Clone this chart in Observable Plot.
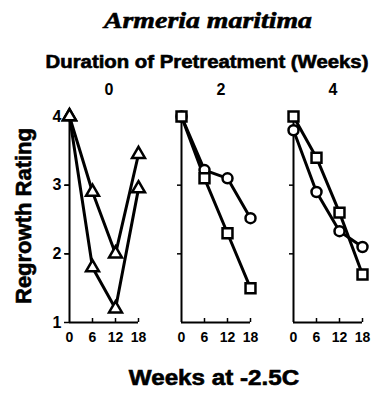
<!DOCTYPE html>
<html>
<head>
<meta charset="utf-8">
<script src="https://cdn.jsdelivr.net/npm/d3@7"></script>
<script src="https://cdn.jsdelivr.net/npm/@observablehq/plot@0.6"></script>
<style>
  body { margin: 0; background: #fff; }
  #wrap { position: relative; width: 374px; height: 398px; overflow: hidden; background: #fff; }
  #wrap svg { position: absolute; left: 0; top: 0; }
  .lab { position: absolute; white-space: nowrap; color: #000; transform: translate(-50%, -50%);
         font-family: "Liberation Sans", Arial, sans-serif; font-weight: bold; line-height: 1;
         -webkit-text-stroke: 0.6px #000; }
  #title { left: 208px; top: 20px; font-family: "Liberation Serif", "DejaVu Serif", serif; font-style: italic; font-size: 24px;
           transform: translate(-50%, -50%) scaleX(1.16); }
  #dur { left: 207px; top: 62px; font-size: 18px; transform: translate(-50%, -50%) scaleX(1.13); }
  #ylab { left: 24px; top: 216px; font-size: 22px; transform: translate(-50%, -50%) rotate(-90deg); }
  #xlab { left: 214px; top: 378px; font-size: 22px; transform: translate(-50%, -50%) scaleX(1.1); }
</style>
</head>
<body>
<div id="wrap">
  <div class="lab" id="title">Armeria maritima</div>
  <div class="lab" id="dur">Duration of Pretreatment (Weeks)</div>
  <div class="lab" id="ylab">Regrowth Rating</div>
  <div class="lab" id="xlab">Weeks at -2.5C</div>
</div>
<script>
// Facets (duration of pretreatment, weeks)
const pretreatment = ["0", "2", "4"];
// x values: weeks at -2.5C
const weeks = [0, 6, 12, 18];
// y ticks
const ratingTicks = [1, 2, 3, 4];

// Pretreatment 0 weeks (triangles)
const pre0TriangleA = [4, 2.9, 2.0, 3.45];
const pre0TriangleB = [4, 1.8, 1.2, 2.95];
// Pretreatment 2 weeks
const pre2Circle = [4, 3.22, 3.1, 2.52];
const pre2Square = [4, 3.1, 2.3, 1.5];
// Pretreatment 4 weeks
const pre4Circle = [3.8, 2.9, 2.33, 2.1];
const pre4Square = [4, 3.4, 2.6, 1.7];

const seriesList = [
  {pre: "0", id: "0a", symbol: "triangle", values: pre0TriangleA},
  {pre: "0", id: "0b", symbol: "triangle", values: pre0TriangleB},
  {pre: "2", id: "2c", symbol: "circle", values: pre2Circle},
  {pre: "2", id: "2s", symbol: "square", values: pre2Square},
  {pre: "4", id: "4c", symbol: "circle", values: pre4Circle},
  {pre: "4", id: "4s", symbol: "square", values: pre4Square}
];
const rows = seriesList.flatMap(s => weeks.map((w, i) => ({pre: s.pre, id: s.id, symbol: s.symbol, week: w, rating: s.values[i]})));

const chart = Plot.plot({
  width: 374,
  height: 398,
  marginTop: 116,
  marginBottom: 76,
  marginLeft: 68,
  marginRight: 11,
  style: {fontFamily: "Liberation Sans, Arial, sans-serif", color: "black", background: "transparent"},
  fx: {domain: pretreatment, paddingInner: 0.38, paddingOuter: 0},
  x: {domain: [0, 18]},
  y: {domain: [1, 4]},
  marks: [
    Plot.axisFx({anchor: "top", label: null, tickSize: 0, tickPadding: 22, fontSize: 16, fontWeight: "bold", dx: 5, stroke: "black", strokeWidth: 0.6}),
    Plot.ruleX([0], {stroke: "black", strokeWidth: 2}),
    Plot.ruleY([1], {stroke: "black", strokeWidth: 2}),
    Plot.axisY({ticks: ratingTicks, tickFormat: "d", tickSize: 5, tickPadding: 3, fontSize: 16, fontWeight: "bold", label: null, strokeWidth: 1.5}),
    Plot.axisY({ticks: [2, 3], tickSize: 4, tickFormat: () => "", label: null, facetAnchor: null, strokeWidth: 1.5}),
    Plot.axisX({ticks: weeks, tickSize: 0, tickPadding: 10, fontSize: 14, fontWeight: "bold", label: null}),
    Plot.axisX({ticks: [6, 12, 18], tickSize: 4, dy: -4, tickFormat: () => "", label: null, strokeWidth: 1.5}),
    Plot.line(rows, {fx: "pre", x: "week", y: "rating", z: "id", stroke: "black", strokeWidth: 3}),
    Plot.dot(rows.filter(d => d.symbol === "triangle"), {fx: "pre", x: "week", y: "rating", symbol: "triangle", r: 4.8, fill: "white", stroke: "black", strokeWidth: 2.5}),
    Plot.dot(rows.filter(d => d.symbol === "circle"), {fx: "pre", x: "week", y: "rating", symbol: "circle", r: 5, fill: "white", stroke: "black", strokeWidth: 2.5}),
    Plot.dot(rows.filter(d => d.symbol === "square"), {fx: "pre", x: "week", y: "rating", symbol: "square", r: 5.6, fill: "white", stroke: "black", strokeWidth: 2.5})
  ]
});
document.getElementById("wrap").prepend(chart);
</script>
</body>
</html>
